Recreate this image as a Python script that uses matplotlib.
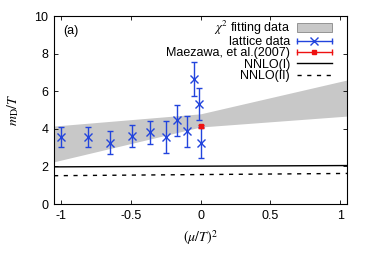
import matplotlib
matplotlib.use("Agg")
import matplotlib.pyplot as plt
from matplotlib.patches import Patch
from matplotlib.lines import Line2D
from matplotlib.legend_handler import HandlerBase

plt.rcParams['font.family'] = ['Liberation Sans', 'DejaVu Sans']
plt.rcParams['mathtext.fontset'] = 'stix'

# lattice data: (mu/T)^2 and m_D/T with errors
lat_x = [-1.0, -0.81, -0.65, -0.49, -0.36, -0.25, -0.17, -0.095, -0.045, -0.01, 0.0]
lat_y = [3.55, 3.58, 3.26, 3.62, 3.83, 3.58, 4.45, 3.88, 6.65, 5.32, 3.26]
lat_err = [0.53, 0.53, 0.62, 0.60, 0.61, 0.84, 0.82, 0.83, 0.89, 0.83, 0.82]

# Maezawa et al. (2007)
mae_x = [0.0]
mae_y = [4.13]
mae_err = [0.10]

# chi^2 fitting band
band_x = [-1.05, 0.0, 1.05]
band_lo = [2.25, 4.10, 4.68]
band_hi = [4.15, 4.80, 6.60]

# NNLO curves
nnlo_x = [-1.05, 1.05]
nnlo1 = [1.98, 2.05]
nnlo2 = [1.51, 1.63]

BLUE = '#2244dd'
RED = '#ee1111'


class HErrHandler(HandlerBase):
    # horizontal errorbar sample, gnuplot style
    def __init__(self, marker, ms):
        super().__init__()
        self.marker = marker
        self.ms = ms

    def create_artists(self, legend, orig_handle, xdescent, ydescent,
                       width, height, fontsize, trans):
        c = orig_handle.get_color()
        y = height / 2 - ydescent
        x0, x1 = -xdescent, -xdescent + width
        line = Line2D([x0, x1], [y, y], color=c, lw=1.0)
        caps = Line2D([x0, x1], [y, y], ls='', marker='|', ms=4, mew=1.0, color=c)
        mk = Line2D([(x0 + x1) / 2], [y], ls='', marker=self.marker,
                    ms=self.ms, mew=1.0, color=c)
        for a in (line, caps, mk):
            a.set_transform(trans)
        return [line, caps, mk]


fig = plt.figure(figsize=(3.7, 2.59), dpi=100)
ax = fig.add_axes([0.146, 0.212, 0.792, 0.726])

ax.fill_between(band_x, band_lo, band_hi, color='#c8c8c8', lw=0, zorder=1)
ax.plot(nnlo_x, nnlo1, color='black', lw=1.0, zorder=2)
ax.plot(nnlo_x, nnlo2, color='black', lw=1.0, ls=(0, (3, 4)), zorder=2)
ax.errorbar(lat_x, lat_y, yerr=lat_err, fmt='x', color=BLUE, ms=6,
            mew=1.0, elinewidth=1.0, capsize=2, capthick=1.0, zorder=3)
ax.errorbar(mae_x, mae_y, yerr=mae_err, fmt='s', color=RED, ms=2.5,
            elinewidth=1.0, capsize=2, capthick=1.0, zorder=4)

ax.set_xlim(-1.05, 1.05)
ax.set_ylim(0, 10)
ax.set_xticks([-1, -0.5, 0, 0.5, 1])
ax.set_xticklabels(['-1', '-0.5', '0', '0.5', '1'])
ax.set_yticks([0, 2, 4, 6, 8, 10])
ax.tick_params(direction='in', top=True, right=True, labelsize=9, length=3, width=0.6, pad=4)
for s in ax.spines.values():
    s.set_linewidth(0.8)

ax.set_xlabel(r'$(\mu/T)^2$', fontsize=10, labelpad=5)
ax.set_ylabel(r'$m_{\rm D}/T$', fontsize=10, labelpad=10)
ax.text(0.03, 0.92, '(a)', transform=ax.transAxes, fontsize=9, va='center')

band_h = Patch(facecolor='#c8c8c8', edgecolor='#888888', lw=0.6)
lat_h = Line2D([], [], color=BLUE)
mae_h = Line2D([], [], color=RED)
nnlo1_h = Line2D([], [], color='black', lw=1.0)
nnlo2_h = Line2D([], [], color='black', lw=1.0, ls=(0, (3, 4)))
ax.legend([band_h, lat_h, mae_h, nnlo1_h, nnlo2_h],
          [r'$\chi^2$ fitting data', 'lattice data', 'Maezawa, et al.(2007)', 'NNLO(I)', 'NNLO(II)'],
          handler_map={lat_h: HErrHandler('x', 6), mae_h: HErrHandler('s', 2.5)},
          loc='upper right', bbox_to_anchor=(0.957, 1.0), frameon=False, markerfirst=False,
          fontsize=9, handlelength=2.8, handletextpad=0.55, labelspacing=-0.05,
          borderpad=0.2, borderaxespad=0)

fig.savefig('out.png', dpi=100)
